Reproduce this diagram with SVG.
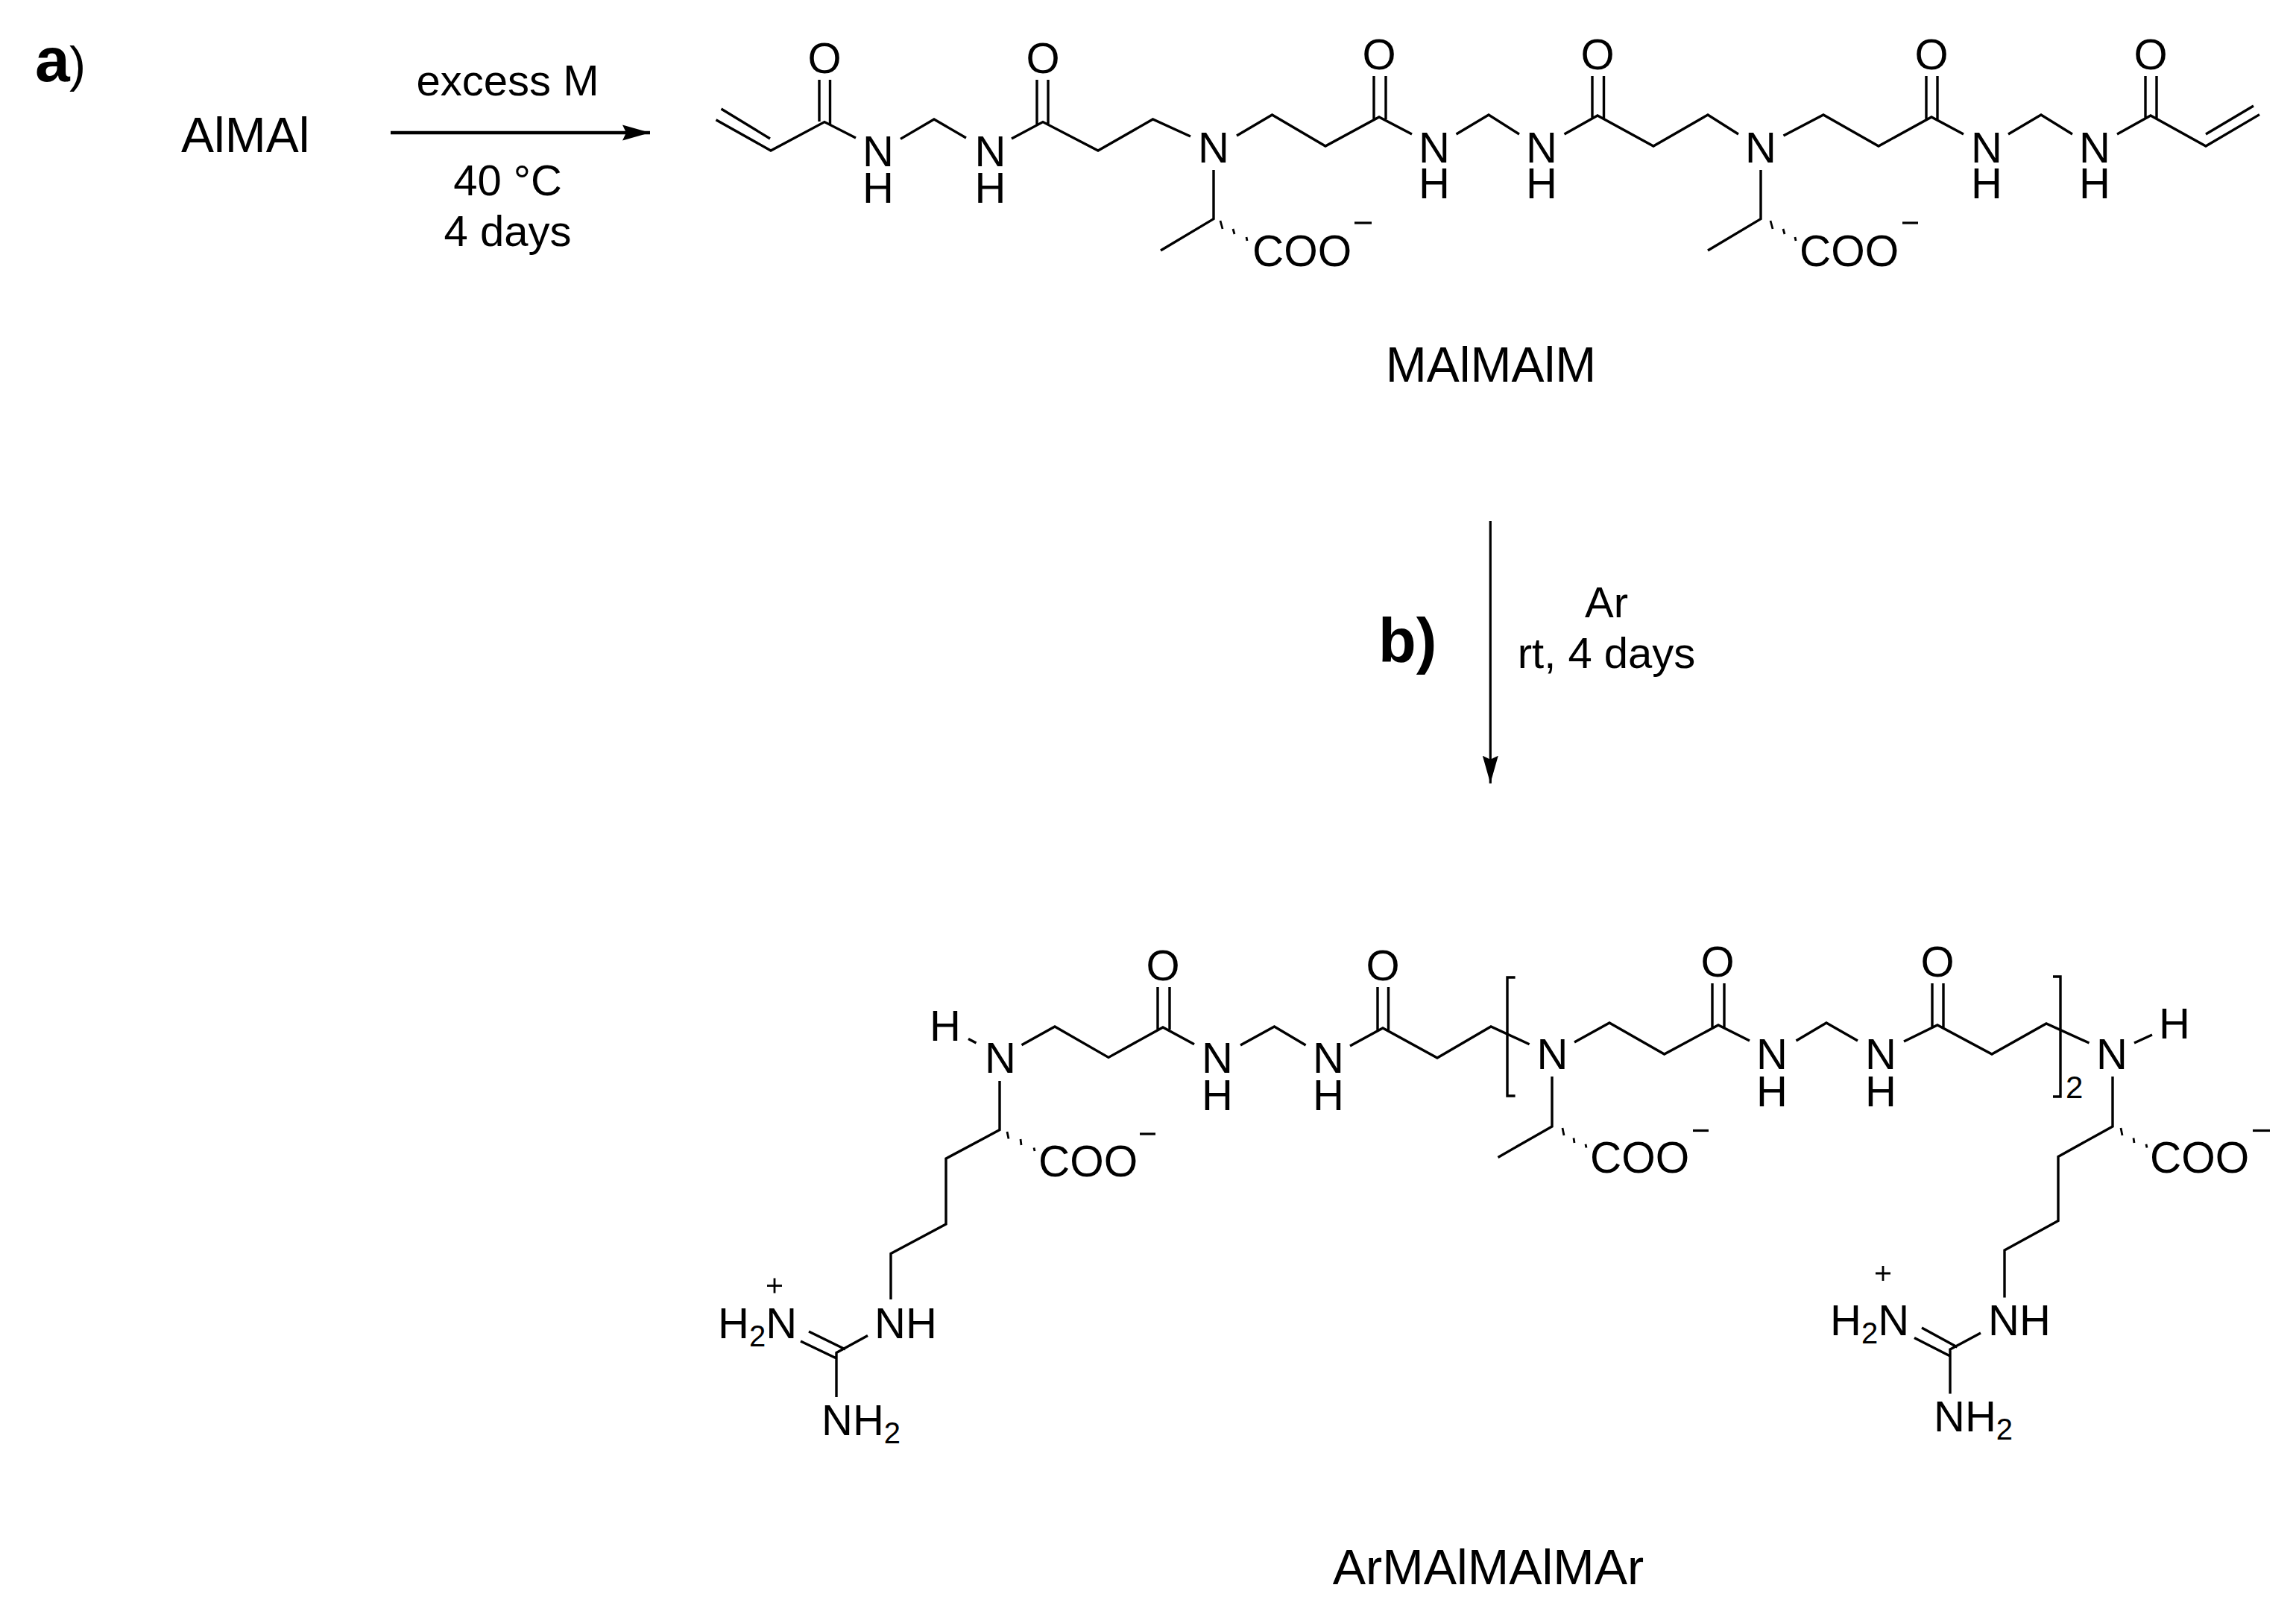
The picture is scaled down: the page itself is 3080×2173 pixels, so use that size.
<svg xmlns="http://www.w3.org/2000/svg" width="3080" height="2173" viewBox="0 0 3080 2173">
<style>
text{font-family:"Liberation Sans",Arial,sans-serif;fill:#000}
.t{font-size:58px}
.coo{font-size:58.5px}
.lab{font-size:66px}
.atom{font-size:58px;text-anchor:middle}
.left{font-size:58px}
.sub{font-size:40px}
.m{text-anchor:middle}
.b{fill:none;stroke:#000;stroke-width:3.4}
.h{fill:none;stroke:#000;stroke-width:2.8}
.minus{stroke:#000;stroke-width:3.2}
.arr{fill:none;stroke:#000}
</style>
<defs>
<marker id="ah" markerUnits="userSpaceOnUse" markerWidth="40" markerHeight="24" refX="37" refY="12" orient="auto"><path d="M0 1.5L37 12L0 22.5L5 12Z" fill="#000"/></marker>
</defs>
<rect width="3080" height="2173" fill="#fff"/>
<g id="connectors">
<line class="arr" x1="524" y1="178" x2="872" y2="178" stroke-width="4.5" marker-end="url(#ah)"/>
<line class="arr" x1="1999.3" y1="699" x2="1999.3" y2="1050.7" stroke-width="3.2" marker-end="url(#ah)"/>
</g>
<g id="step-a">
<text x="47" y="109" font-size="84" font-weight="700">a</text>
<text x="93" y="109" font-size="66">)</text>
<text class="lab" x="243" y="204">AlMAl</text>
<text class="t m" x="681" y="128">excess M</text>
<text class="t m" x="681" y="262">40 °C</text>
<text class="t m" x="681" y="330">4 days</text>
</g>
<g id="step-b">
<text x="1849" y="888" font-size="83" font-weight="700">b)</text>
<text class="t m" x="2155" y="828">Ar</text>
<text class="t m" x="2155" y="896">rt, 4 days</text>
</g>
<g id="MAlMAlM">
<path class="b" d="M960.5 160.7L1034 202L1106 163.6L1148 185M967.5 146L1033 186M1099 107V163M1113.5 107V167"/>
<path class="b" d="M1208 186.4L1253 160L1296 185M1357 186L1399 163.6L1473 202L1546.5 160L1597 183M1391 107V167M1406 107V167"/>
<path class="b" d="M1628 228V293.6L1557 336M1659 182L1706.5 154L1778 196L1850 157L1894 180M1843 102V160M1859 102V160M1953.5 180L1997 154L2038 180"/>
<path class="b" d="M2098.5 180L2143 155L2218 196L2291 154L2332 180M2136 102V159M2151.5 102V159M2362 228V293.6L2291 336"/>
<path class="b" d="M2392.5 182L2446 154L2520 196L2591 157L2634 180M2584 102V160M2599 102V160M2694 180L2738 154L2780 180M2840 180L2885 155L2959 196L3031 153.6M2959 180L3023 142M2878 102V159M2893 102V159"/>
<path class="h" d="M1637 296L1640 307M1654 307L1656 314M1672 318L1673 323M2375 296L2378 307M2392 307L2394 314M2408 318L2409 323"/>
<text class="atom" x="1106" y="98">O</text><text class="atom" x="1399" y="98">O</text>
<text class="atom" x="1850" y="93">O</text><text class="atom" x="2143" y="93">O</text><text class="atom" x="2591" y="93">O</text><text class="atom" x="2885" y="93">O</text>
<text class="atom"><tspan x="1178" y="223">N</tspan><tspan x="1178" y="272">H</tspan></text>
<text class="atom"><tspan x="1328.5" y="223">N</tspan><tspan x="1328.5" y="272">H</tspan></text>
<text class="atom" x="1628" y="218">N</text><text class="atom" x="2362" y="218">N</text>
<text class="atom"><tspan x="1924" y="218">N</tspan><tspan x="1924" y="266">H</tspan></text>
<text class="atom"><tspan x="2068" y="218">N</tspan><tspan x="2068" y="266">H</tspan></text>
<text class="atom"><tspan x="2665" y="218">N</tspan><tspan x="2665" y="266">H</tspan></text>
<text class="atom"><tspan x="2810" y="218">N</tspan><tspan x="2810" y="266">H</tspan></text>
<text class="coo" x="1680" y="357">COO</text><text class="coo" x="2414" y="357">COO</text>
<line class="minus" x1="1817" y1="299" x2="1840" y2="299"/><line class="minus" x1="2552" y1="299" x2="2573" y2="299"/>
<text class="lab m" x="2000" y="512">MAlMAlM</text>
</g>
<g id="ArMAlMAlMAr">
<path class="b" d="M1299 1393.5L1309.5 1399M1341 1450V1515.6L1269 1554V1642L1195 1681.6V1743"/>
<path class="b" d="M1370.5 1401.7L1415 1377L1487 1418.4L1560 1378L1602 1400.7M1553 1324V1381M1569 1324V1381M1664 1402L1709.5 1377L1751.6 1402M1811 1403L1855 1379L1928 1419L2000 1377L2051.6 1400.7M1848 1324V1382M1862.5 1324V1382"/>
<path class="b" d="M2032.6 1311H2022V1470H2032.6M2754 1310H2764V1471H2754"/>
<path class="b" d="M2082 1444V1511L2009.5 1552.4M2112 1398L2159 1372L2232.6 1414L2305 1375L2347 1396M2297 1319V1378M2313 1319V1378M2409.5 1396L2450 1372L2492 1396M2554 1397L2599 1375L2672 1414L2745 1373L2802.5 1399M2592 1319V1378M2607 1319V1378"/>
<path class="b" d="M2863 1399L2887 1388M2834 1444V1511L2761 1551.4V1637.6L2689 1677V1740.4"/>
<path class="b" d="M1164 1791.6L1122 1814.6V1874M1074 1799L1122 1822M1085 1786L1134 1810M2657 1788L2616 1810V1869.6M2568 1794.5L2616 1819M2578 1781L2625.6 1807"/>
<path class="h" d="M1351 1518L1353 1527.5M1369 1528L1370 1536M1387 1539.5L1388 1544M2096 1513L2098 1523M2111 1526.5L2112 1533M2127 1534.7L2128 1539.5M2845 1513L2847 1523M2862 1526.5L2863 1533M2879 1534.7L2880 1539.5"/>
<text class="atom" x="1268" y="1396">H</text><text class="atom" x="1342" y="1439">N</text>
<text class="atom" x="1560" y="1314.5">O</text><text class="atom" x="1855" y="1314.5">O</text>
<text class="atom" x="2304" y="1310">O</text><text class="atom" x="2599" y="1310">O</text>
<text class="atom"><tspan x="1633" y="1439">N</tspan><tspan x="1633" y="1489">H</tspan></text>
<text class="atom"><tspan x="1782" y="1439">N</tspan><tspan x="1782" y="1489">H</tspan></text>
<text class="atom" x="2082.5" y="1434">N</text>
<text class="atom"><tspan x="2377" y="1434">N</tspan><tspan x="2377" y="1483.5">H</tspan></text>
<text class="atom"><tspan x="2523" y="1434">N</tspan><tspan x="2523" y="1483.5">H</tspan></text>
<text class="atom" x="2833" y="1434">N</text><text class="atom" x="2917" y="1392.6">H</text>
<text x="2771" y="1472.5" font-size="42">2</text>
<text class="coo" x="1393" y="1578">COO</text><text class="coo" x="2133" y="1573">COO</text><text class="coo" x="2884" y="1573">COO</text>
<line class="minus" x1="1529" y1="1521" x2="1550" y2="1521"/><line class="minus" x1="2271" y1="1516.5" x2="2292" y2="1516.5" stroke="#666"/><line class="minus" x1="3022" y1="1516.5" x2="3045" y2="1516.5"/>
<path class="h" d="M1029 1724.6H1049M1039 1714.6V1734.6M2516 1708H2536M2526 1698V1718"/>
<text class="left" x="963" y="1794.5">H<tspan class="sub" dy="11">2</tspan><tspan dy="-11">N</tspan></text>
<text class="left" x="1173" y="1794.5">NH</text>
<text class="left" x="1102" y="1924.6">NH<tspan class="sub" dy="11">2</tspan></text>
<text class="left" x="2455" y="1790.7">H<tspan class="sub" dy="11">2</tspan><tspan dy="-11">N</tspan></text>
<text class="left" x="2667" y="1790.7">NH</text>
<text class="left" x="2594" y="1920">NH<tspan class="sub" dy="11">2</tspan></text>
<text class="m" x="1996.5" y="2125" font-size="66.5">ArMAlMAlMAr</text>
</g>
</svg>
